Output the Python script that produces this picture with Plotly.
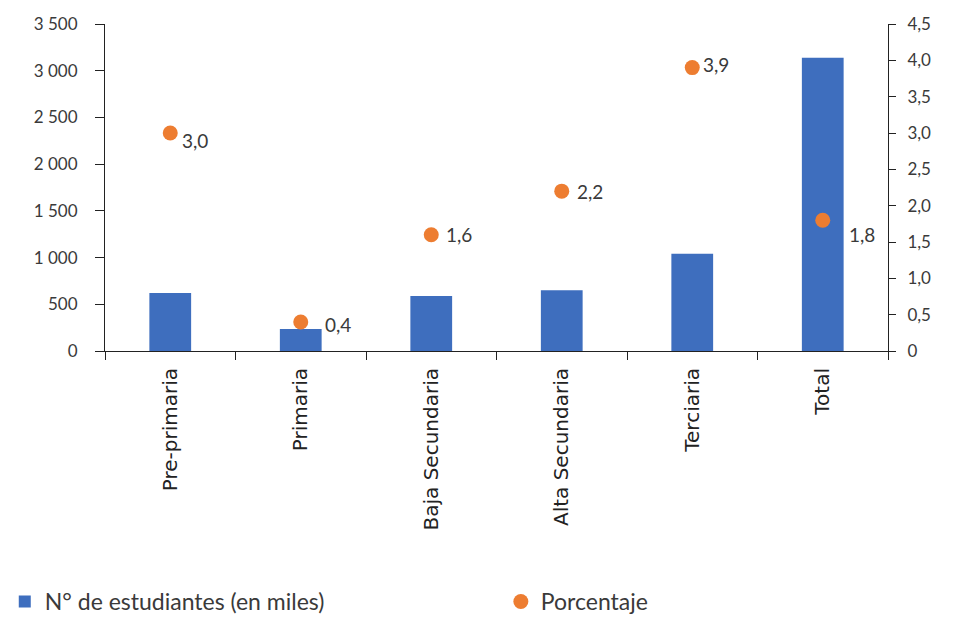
import plotly.graph_objects as go

# Students per education level (thousands) and percentage
categorias = ["Pre-primaria", "Primaria", "Baja Secundaria", "Alta Secundaria", "Terciaria", "Total"]
estudiantes = [620, 235, 590, 650, 1040, 3140]
porcentaje = [3.0, 0.4, 1.6, 2.2, 3.9, 1.8]
pct_ticks = [0, 0.5, 1.0, 1.5, 2.0, 2.5, 3.0, 3.5, 4.0, 4.5]

# pixel offsets of each percentage label relative to its dot
label_dx = [10, 22, 13, 13, 9, 24]
label_dy = [-7, -3, 0, 0, 3, -14]


def coma(v):
    return "0" if v == 0 else f"{v:.1f}".replace(".", ",")


AZUL = "#3E6EBE"
NARANJA = "#ED7D31"
TXT = "#3a3a3a"
TICKFONT = dict(family="Lato, Open Sans, sans-serif", size=17, color=TXT)
LEGFONT = dict(family="Lato, sans-serif", size=23, color=TXT)

fig = go.Figure()
fig.add_trace(go.Bar(
    x=categorias, y=estudiantes, name="N° de estudiantes (en miles)",
    marker=dict(color=AZUL, line=dict(width=0)), width=0.32, legend="legend",
))
fig.add_trace(go.Scatter(
    x=categorias, y=porcentaje, name="Porcentaje", yaxis="y2",
    mode="markers", marker=dict(color=NARANJA, size=15), legend="legend2",
))

for c, v, dx, dy in zip(categorias, porcentaje, label_dx, label_dy):
    fig.add_annotation(
        x=c, y=v, xref="x", yref="y2", text=coma(v),
        showarrow=False, xanchor="left", yanchor="middle",
        xshift=dx, yshift=dy, font=dict(family="Lato, sans-serif", size=19, color=TXT),
    )

fig.update_layout(
    width=954, height=623,
    margin=dict(l=105, r=66, t=24, b=272),
    paper_bgcolor="white", plot_bgcolor="white",
    separators=", ",
    showlegend=True,
    legend=dict(
        orientation="h", xref="container", yref="container",
        x=0.005, y=0.0, xanchor="left", yanchor="bottom",
        font=LEGFONT, itemwidth=30,
    ),
    legend2=dict(
        orientation="h", xref="container", yref="container",
        x=0.525, y=0.0, xanchor="left", yanchor="bottom",
        font=LEGFONT, itemwidth=30, itemsizing="trace",
    ),
    xaxis=dict(
        showline=True, linecolor="#222", linewidth=1,
        ticks="outside", tickson="boundaries", ticklen=8, tickcolor="#222",
        tickangle=-90, ticklabelstandoff=8,
        tickfont=dict(family="DejaVu Sans, sans-serif", size=20, color="#222"),
        showgrid=False,
    ),
    yaxis=dict(
        range=[0, 3500], tick0=0, dtick=500, tickformat=",d",
        showline=True, linecolor="#222", linewidth=1,
        ticks="outside", ticklen=9, tickcolor="#222",
        tickfont=TICKFONT, showgrid=False, zeroline=False, ticklabelstandoff=14,
    ),
    yaxis2=dict(
        range=[0, 4.5], tickmode="array", tickvals=pct_ticks,
        ticktext=[coma(t) for t in pct_ticks],
        overlaying="y", side="right",
        showline=True, linecolor="#222", linewidth=1,
        ticks="outside", ticklen=7, tickcolor="#222",
        tickfont=TICKFONT, showgrid=False, zeroline=False, ticklabelstandoff=8,
    ),
)

fig.write_html("out.html")
